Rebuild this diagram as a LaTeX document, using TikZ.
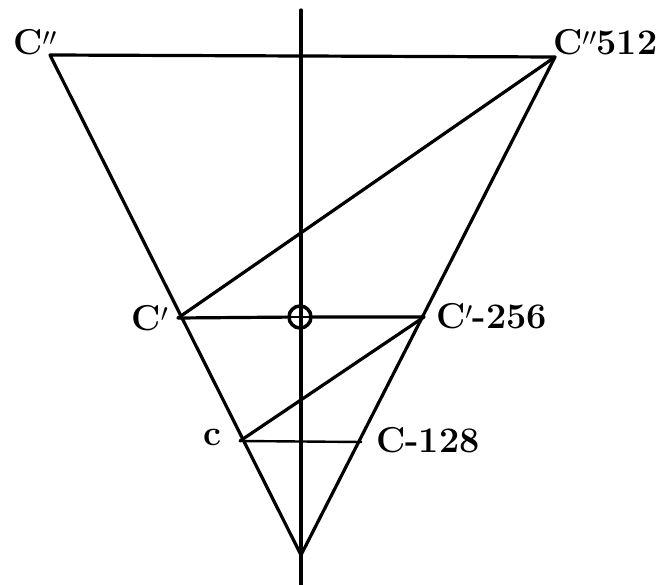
\documentclass[tikz,border=0pt]{standalone}
\usepackage{fontspec}
\begin{document}
\begin{tikzpicture}[x=1pt,y=-1pt,
  ln/.style={line width=3.2pt,line cap=round,line join=round},
  lbl/.style={font=\fontsize{36}{36}\selectfont\bfseries,inner sep=0pt}]
\useasboundingbox (0,0) rectangle (659,585);
\coordinate (tl) at (50,55);
\coordinate (tr) at (555,57);
\coordinate (bot) at (301,555);
\coordinate (cp) at (178,318);
\coordinate (cp256) at (424,317);
\coordinate (c) at (240,441);
\coordinate (c128) at (362,442);
\coordinate (axtop) at (301,10);
\coordinate (axbot) at (301,585);
\node[circle,draw,line width=3.5pt,minimum size=22pt,inner sep=0pt] (o) at (300,317) {};
\draw[ln] (axtop) -- (axbot);
\draw[ln] (tl) -- (tr) -- (bot) -- cycle;
\draw[ln] (cp) -- (o) -- (cp256);
\draw[ln] (cp) -- (tr);
\draw[ln] (c) -- (cp256);
\draw[line width=2.4pt] (c) -- (c128);
\draw[line width=2.4pt] (o.west) -- (o.east);
\node[lbl] (lcpp) at (35,42) {C$''$};
\node[lbl,anchor=west] (l512) at (553,42) {C$''$512};
\node[lbl] (lcp) at (150,318) {C$'$};
\node[lbl,anchor=west] (l256) at (436,316) {C$'$-256};
\node[lbl] (lc) at (212,437) {c};
\node[lbl,anchor=west] (l128) at (376,440) {C-128};
\end{tikzpicture}
\end{document}
